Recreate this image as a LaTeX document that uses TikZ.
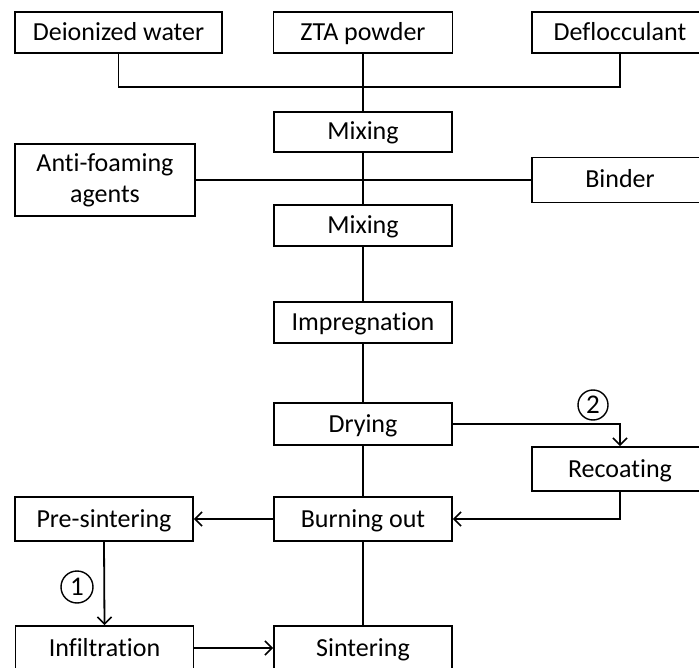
\documentclass[tikz,border=0pt]{standalone}
\usepackage{fontspec}
\setmainfont[RawFeature=-liga]{Carlito}
\usetikzlibrary{arrows.meta}
\begin{document}
\begin{tikzpicture}[x=1pt,y=-1pt,
  box/.style={draw,line width=1.8pt,minimum height=42pt,inner sep=0pt,align=center,
    font=\fontsize{26}{31}\selectfont,text height=19pt,text depth=3pt},
  ln/.style={line width=1.8pt},
  arr/.style={line width=1.8pt,-{Straight Barb[length=7pt,width=14pt,line width=1.6pt]}},
  num/.style={draw,circle,line width=1.4pt,minimum size=30pt,inner sep=0pt,
    font=\fontsize{27}{29}\selectfont}]
\useasboundingbox (0,0) rectangle (699,668);
\clip (0,0) rectangle (699,668);
\node[box,minimum width=207pt,minimum height=41pt] (dw) at (118.5,32.5) {Deionized water};
\node[box,minimum width=179pt,minimum height=41pt] (zta) at (363,32.5) {ZTA powder};
\node[box,minimum width=176pt,minimum height=41pt] (def) at (620,32.5) {Deflocculant};
\coordinate (j1) at (363,87);
\node[box,minimum width=178pt,minimum height=40pt] (mix1) at (363,132) {Mixing};
\node[box,minimum width=180pt,minimum height=72pt,text height=,text depth=] (anti) at (105,180) {Anti-foaming\\agents};
\node[box,minimum width=176pt,minimum height=45pt] (bind) at (620,180) {Binder};
\node[box,minimum width=178pt,minimum height=41pt] (mix2) at (363,225.5) {Mixing};
\node[box,minimum width=178pt,minimum height=41pt] (imp) at (363,322.5) {Impregnation};
\node[box,minimum width=178pt] (dry) at (363,424) {Drying};
\node[box,minimum width=176pt,minimum height=44pt] (rec) at (620,469) {Recoating};
\node[box,minimum width=178pt,minimum height=44pt] (burn) at (363,519) {Burning out};
\node[box,minimum width=178pt,minimum height=44pt] (pre) at (104,519) {Pre-sintering};
\node[box,minimum width=178pt,minimum height=44pt] (inf) at (104.5,648) {Infiltration};
\node[box,minimum width=178pt,minimum height=44pt] (sint) at (363,648) {Sintering};
\node[num] (c2) at (593,405) {2};
\node[num,minimum size=32pt] (c1) at (77,587) {1};
\draw[ln] (dw.south) |- (j1) -| (def.south);
\draw[ln] (zta.south) -- (mix1.north);
\draw[ln] (anti.east) -- (bind.west);
\draw[ln] (mix1.south) -- (mix2.north);
\draw[ln] (mix2.south) -- (imp.north);
\draw[ln] (imp.south) -- (dry.north);
\draw[ln] (dry.south) -- (burn.north);
\draw[ln] (burn.south) -- (sint.north);
\draw[arr] (dry.east) -| (rec.north);
\draw[arr] (rec.south) |- (burn.east);
\draw[arr] (burn.west) -- (pre.east);
\draw[arr] (pre.south) -- (inf.north);
\draw[arr] (inf.east) -- (sint.west);
\end{tikzpicture}
\end{document}
